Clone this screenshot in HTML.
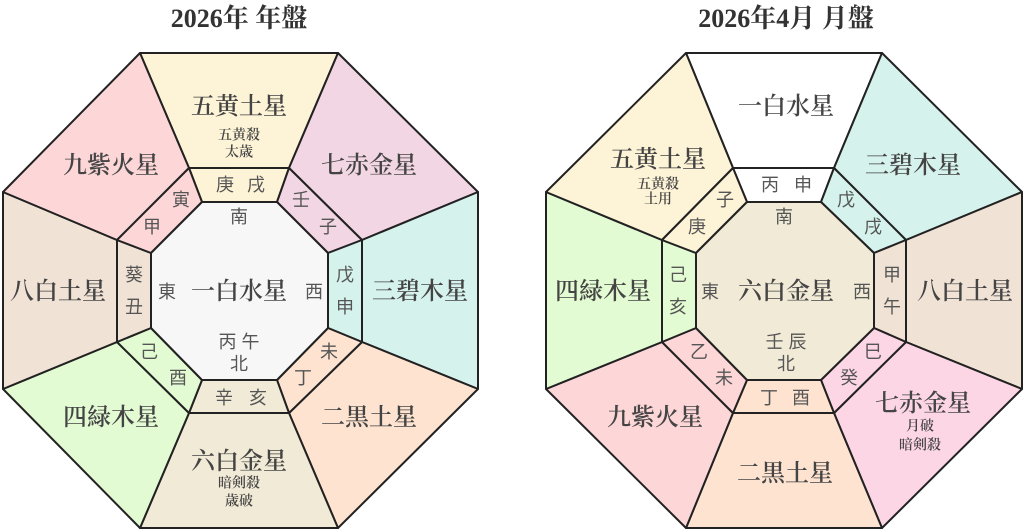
<!DOCTYPE html>
<html><head><meta charset="utf-8"><style>
html,body{margin:0;padding:0;background:#fff;width:1024px;height:531px;overflow:hidden}
svg{display:block}
.t{font-family:"Liberation Serif","Noto Serif CJK SC",serif;font-weight:bold;fill:#333;font-size:26px;text-anchor:middle}
.m{font-family:"Liberation Serif","Noto Serif CJK SC",serif;fill:#444;font-size:24px;text-anchor:middle;dominant-baseline:central;font-weight:600}
.s{font-family:"Liberation Serif","Noto Serif CJK SC",serif;fill:#444;font-size:14px;text-anchor:middle;dominant-baseline:central;font-weight:600}
.r{font-family:"Liberation Sans","Noto Sans CJK JP",sans-serif;fill:#555;font-size:18px;text-anchor:middle;dominant-baseline:central}
polygon{stroke:#222;stroke-width:2;stroke-linejoin:round}
</style></head><body>
<svg width="1024" height="531" viewBox="0 0 1024 531">
<text class="t" x="239" y="27">2026年 年盤</text>
<text class="t" x="786" y="27">2026年4月 月盤</text>
<!-- LEFT -->
<g>
<polygon fill="#fdf3d6" points="140,53 338,53 289,168 189,168"/>
<polygon fill="#f2d6e3" points="338,53 478,192 362,240 289,168"/>
<polygon fill="#d6f2ec" points="478,192 478,389 362,342 362,240"/>
<polygon fill="#fde3d0" points="478,389 338,528 289,413 362,342"/>
<polygon fill="#f1ead6" points="338,528 140,528 189,413 289,413"/>
<polygon fill="#e3fbd3" points="140,528 3,389 117,342 189,413"/>
<polygon fill="#f1e2d6" points="3,389 3,192 117,240 117,342"/>
<polygon fill="#fdd6d8" points="3,192 140,53 189,168 117,240"/>
<polygon fill="#fdf3d6" points="189,168 289,168 277,202 202,202"/>
<polygon fill="#f2d6e3" points="289,168 362,240 328,253 277,202"/>
<polygon fill="#d6f2ec" points="362,240 362,342 328,328 328,253"/>
<polygon fill="#fde3d0" points="362,342 289,413 277,380 328,328"/>
<polygon fill="#f1ead6" points="289,413 189,413 202,380 277,380"/>
<polygon fill="#e3fbd3" points="189,413 117,342 151,328 202,380"/>
<polygon fill="#f1e2d6" points="117,342 117,240 151,253 151,328"/>
<polygon fill="#fdd6d8" points="117,240 189,168 202,202 151,253"/>
<polygon fill="#f7f7f7" points="202,202 277,202 328,253 328,328 277,380 202,380 151,328 151,253"/>
<text class="m" x="239" y="107">五黄土星</text>
<text class="s" x="239" y="136">五黄殺</text><text class="s" x="239" y="153">太歳</text>
<text class="m" x="111" y="166">九紫火星</text>
<text class="m" x="369" y="166">七赤金星</text>
<text class="m" x="58" y="292">八白土星</text>
<text class="m" x="420" y="292">三碧木星</text>
<text class="m" x="111" y="418">四緑木星</text>
<text class="m" x="369" y="418">二黒土星</text>
<text class="m" x="239" y="462">六白金星</text>
<text class="s" x="239" y="484">暗剣殺</text><text class="s" x="239" y="502">歳破</text>
<text class="m" x="239" y="292">一白水星</text>
<text class="r" x="167" y="292">東</text><text class="r" x="314" y="292">西</text>
<text class="r" x="239" y="217">南</text>
<text class="r" x="239" y="342">丙 午</text><text class="r" x="239" y="364">北</text>
<text class="r" x="225" y="185">庚</text><text class="r" x="256" y="185">戌</text>
<text class="r" x="181" y="200">寅</text><text class="r" x="152" y="227">甲</text>
<text class="r" x="301" y="200">壬</text><text class="r" x="328" y="227">子</text>
<text class="r" x="134" y="275">葵</text><text class="r" x="134" y="307">丑</text>
<text class="r" x="345" y="275">戊</text><text class="r" x="345" y="307">申</text>
<text class="r" x="149" y="352">己</text><text class="r" x="178" y="378">酉</text>
<text class="r" x="329" y="352">未</text><text class="r" x="303" y="378">丁</text>
<text class="r" x="224" y="398">辛</text><text class="r" x="258" y="398">亥</text>
</g>
<!-- RIGHT -->
<g>
<polygon fill="#ffffff" points="686,53 882,53 834,168 733,168"/>
<polygon fill="#d6f2ec" points="882,53 1022,192 906,240 834,168"/>
<polygon fill="#f1e2d6" points="1022,192 1022,389 906,342 906,240"/>
<polygon fill="#fdd6e6" points="1022,389 882,528 834,413 906,342"/>
<polygon fill="#fde3d0" points="882,528 686,528 733,413 834,413"/>
<polygon fill="#fdd6d8" points="686,528 546,389 662,342 733,413"/>
<polygon fill="#e3fbd3" points="546,389 546,192 662,240 662,342"/>
<polygon fill="#fdf3d6" points="546,192 686,53 733,168 662,240"/>
<polygon fill="#ffffff" points="733,168 834,168 821,202 747,202"/>
<polygon fill="#d6f2ec" points="834,168 906,240 874,253 821,202"/>
<polygon fill="#f1e2d6" points="906,240 906,342 874,328 874,253"/>
<polygon fill="#fdd6e6" points="906,342 834,413 821,380 874,328"/>
<polygon fill="#fde3d0" points="834,413 733,413 747,380 821,380"/>
<polygon fill="#fdd6d8" points="733,413 662,342 696,328 747,380"/>
<polygon fill="#e3fbd3" points="662,342 662,240 696,253 696,328"/>
<polygon fill="#fdf3d6" points="662,240 733,168 747,202 696,253"/>
<polygon fill="#f1ead6" points="747,202 821,202 874,253 874,328 821,380 747,380 696,328 696,253"/>
<text class="m" x="786" y="107">一白水星</text>
<text class="m" x="658" y="160">五黄土星</text>
<text class="s" x="658" y="185">五黄殺</text><text class="s" x="658" y="200">土用</text>
<text class="m" x="913" y="166">三碧木星</text>
<text class="m" x="603" y="292">四緑木星</text>
<text class="m" x="965" y="292">八白土星</text>
<text class="m" x="655" y="418">九紫火星</text>
<text class="m" x="923" y="404">七赤金星</text>
<text class="s" x="920" y="427">月破</text><text class="s" x="920" y="446">暗剣殺</text>
<text class="m" x="785" y="474">二黒土星</text>
<text class="m" x="786" y="292">六白金星</text>
<text class="r" x="710" y="292">東</text><text class="r" x="862" y="292">西</text>
<text class="r" x="784" y="217">南</text>
<text class="r" x="786" y="342">壬 辰</text><text class="r" x="786" y="364">北</text>
<text class="r" x="770" y="185">丙</text><text class="r" x="803" y="185">申</text>
<text class="r" x="725" y="200">子</text><text class="r" x="697" y="227">庚</text>
<text class="r" x="846" y="200">戊</text><text class="r" x="873" y="227">戌</text>
<text class="r" x="678" y="275">己</text><text class="r" x="678" y="307">亥</text>
<text class="r" x="892" y="275">甲</text><text class="r" x="892" y="307">午</text>
<text class="r" x="699" y="352">乙</text><text class="r" x="724" y="378">未</text>
<text class="r" x="873" y="352">巳</text><text class="r" x="849" y="378">癸</text>
<text class="r" x="769" y="398">丁</text><text class="r" x="801" y="398">酉</text>
</g>
</svg>
</body></html>
